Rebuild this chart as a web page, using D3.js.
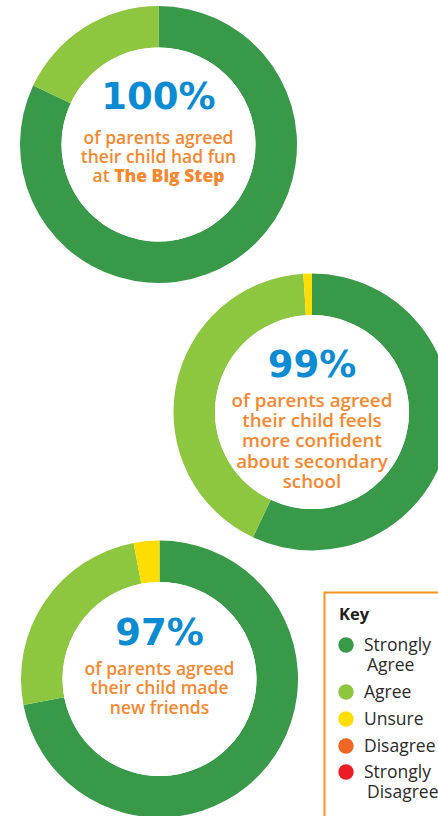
<!DOCTYPE html>
<html><head><meta charset="utf-8">
<script src="https://cdn.jsdelivr.net/npm/d3@7"></script>
<style>
html,body{margin:0;padding:0;background:#fff;overflow:hidden}
svg{display:block}
</style></head>
<body>
<svg id="chart" width="438" height="816"></svg>
<script>
const categories = ["Strongly Agree","Agree","Unsure","Disagree","Strongly Disagree"];
const keyLabels = [["Strongly","Agree"],["Agree"],["Unsure"],["Disagree"],["Strongly","Disagree"]];
const colors = ["#389a48","#8dc63f","#ffdd00","#f26522","#ed1c24"];
const funValues = [82,18,0,0,0];
const confidentValues = [57,42,1,0,0];
const friendsValues = [72,25,3,0,0];
const headlines = ["100%","99%","97%"];
const captions = [
  [["of parents agreed"],["their child had fun"],["at ","The Big Step"]],
  [["of parents agreed"],["their child feels"],["more confident"],["about secondary"],["school"]],
  [["of parents agreed"],["their child made"],["new friends"]]
];

const svg = d3.select("#chart");
const color = d3.scaleOrdinal().domain(categories).range(colors);
const pie = d3.pie().sort(null).value(d => d.v);
const arc = d3.arc().innerRadius(97).outerRadius(138.5);

const layout = [
  {cx:158.5, cy:144.5, values:funValues, hy:-36, cyy:-1, lh:19, fs:17.5},
  {cx:312, cy:412, values:confidentValues, hy:-35, cyy:-5, lh:20.2, fs:18.8},
  {cx:159.5, cy:679, values:friendsValues, hy:-34, cyy:-4, lh:19.3, fs:17.5}
];

layout.forEach((L, i) => {
  const g = svg.append("g").attr("transform", `translate(${L.cx},${L.cy})`);
  const data = categories.map((c, j) => ({c, v: L.values[j]}));
  g.selectAll("path").data(pie(data).filter(d => d.data.v > 0)).join("path")
    .attr("d", arc).attr("fill", d => color(d.data.c));
  g.append("circle").attr("r", 97).attr("fill", "#fff");
  g.append("text").attr("x", 0).attr("y", L.hy)
    .attr("text-anchor", "middle")
    .attr("font-family", "'DejaVu Sans', sans-serif").attr("font-weight", 700)
    .attr("font-size", 37).attr("fill", "#0a8bd2")
    .text(headlines[i]);
  captions[i].forEach((parts, k) => {
    const t = g.append("text").attr("x", 0).attr("y", L.cyy + k * L.lh)
      .attr("text-anchor", "middle")
      .attr("font-family", "'Open Sans', sans-serif").attr("font-weight", 600)
      .attr("font-size", L.fs).attr("fill", "#f7882f");
    parts.forEach((p, m) => {
      t.append("tspan").attr("font-weight", (i === 0 && k === 2 && m === 1) ? 800 : 600).text(p);
    });
  });
});

// Key
const key = svg.append("g");
key.append("rect").attr("x", 324.5).attr("y", 592.5).attr("width", 130).attr("height", 240)
  .attr("fill", "#fff").attr("stroke", "#f7941d").attr("stroke-width", 2);
key.append("text").attr("x", 339).attr("y", 620)
  .attr("font-family", "'Open Sans', sans-serif").attr("font-weight", 700)
  .attr("font-size", 16.5).attr("fill", "#231f20").text("Key");
const rowY = [645, 692, 719, 746, 772];
categories.forEach((c, j) => {
  key.append("circle").attr("cx", 346).attr("cy", rowY[j]).attr("r", 7.7).attr("fill", color(c));
  keyLabels[j].forEach((l, k) => {
    key.append("text").attr("x", k === 0 ? 364 : 367).attr("y", rowY[j] + 6 + k * 20)
      .attr("font-family", "'Open Sans', sans-serif").attr("font-size", 17.5)
      .attr("fill", "#2b2a29").text(l);
  });
});
</script>
</body></html>
